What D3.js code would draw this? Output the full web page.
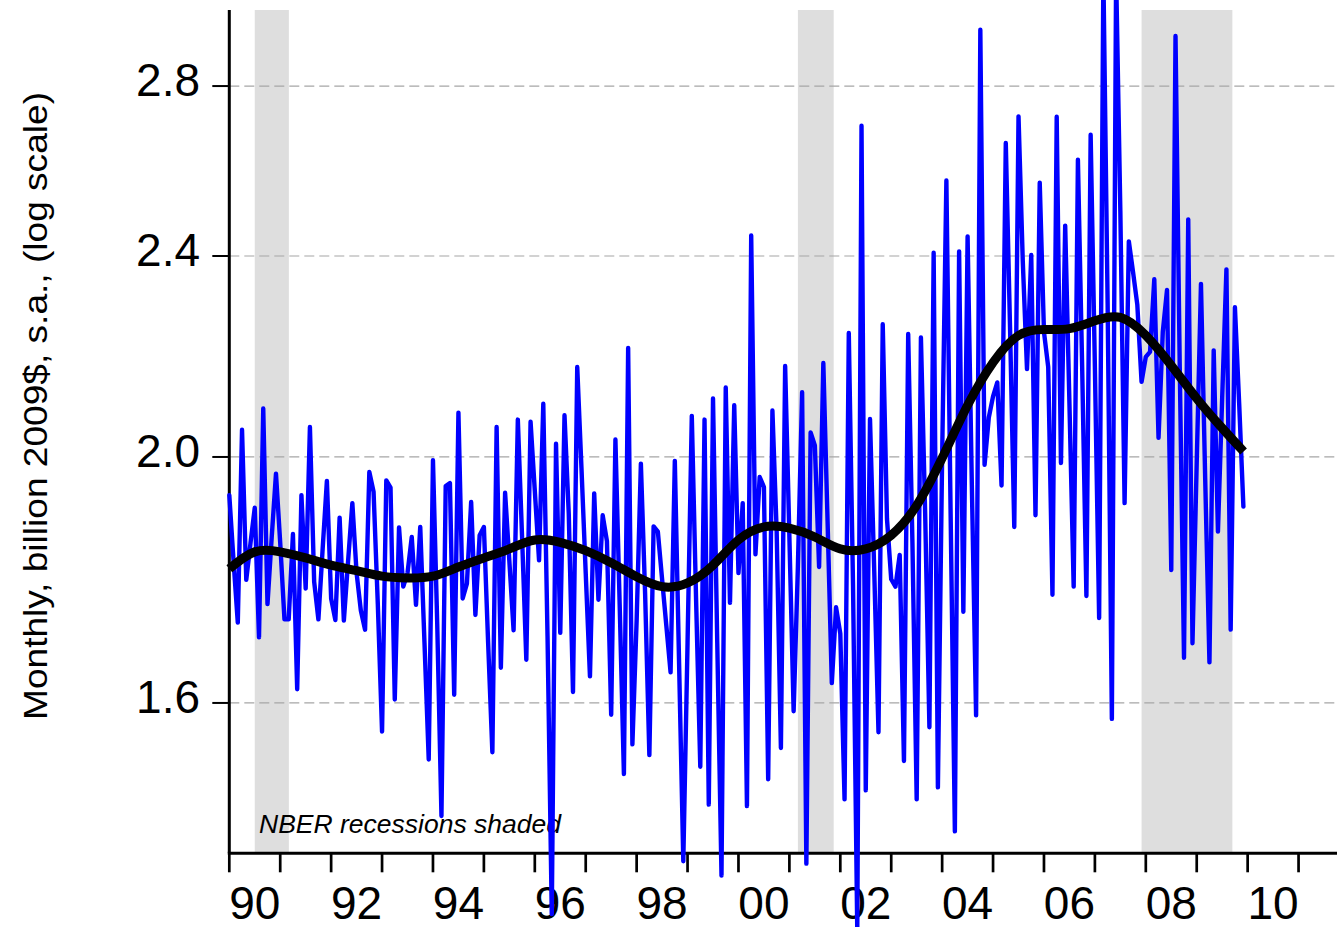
<!DOCTYPE html>
<html>
<head>
<meta charset="utf-8">
<script src="https://cdnjs.cloudflare.com/ajax/libs/d3/7.8.5/d3.min.js"></script>
<style>
  html, body { margin: 0; padding: 0; background: #ffffff; }
  svg { display: block; }
</style>
</head>
<body>
<div id="chart"></div>
<script>
// ---------------- DATA ----------------
const startYear = 1990;            // first monthly observation: Jan 1990
const monthlyValues = [
  1.932,1.82,1.721,2.050,1.789,1.85,1.910,1.698,2.090,1.750,1.86,1.970,
  1.85,1.726,1.726,1.865,1.620,1.932,1.775,2.055,1.786,1.726,1.84,1.957,
  1.759,1.725,1.893,1.724,1.82,1.918,1.80,1.74,1.710,1.973,1.938,1.75,
  1.559,1.958,1.945,1.605,1.876,1.778,1.80,1.860,1.749,1.877,1.69,1.520,
  1.994,1.72,1.444,1.948,1.953,1.612,2.082,1.759,1.783,1.920,1.733,1.863,
  1.877,1.69,1.530,2.055,1.652,1.936,1.82,1.709,2.069,1.86,1.664,2.065,
  1.94,1.821,2.099,1.70,1.321,2.024,1.705,2.077,1.90,1.616,2.170,1.98,
  1.80,1.639,1.935,1.757,1.897,1.853,1.583,2.032,1.75,1.500,2.208,1.541,
  1.724,1.988,1.766,1.526,1.878,1.869,1.79,1.716,1.645,1.993,1.66,1.386,
  1.69,2.076,1.76,1.510,2.069,1.459,2.109,1.69,1.368,2.130,1.752,2.096,
  1.800,1.918,1.457,2.445,1.831,1.964,1.946,1.493,2.086,1.87,1.536,2.172,
  1.86,1.588,1.81,2.121,1.383,2.045,2.021,1.81,2.178,1.886,1.629,1.745,
  1.704,1.466,2.238,1.78,1.30,2.701,1.478,2.070,1.803,1.558,2.256,1.891,
  1.79,1.778,1.830,1.518,2.236,1.85,1.466,2.229,1.90,1.565,2.407,1.482,
  2.00,2.570,1.90,1.424,2.410,1.738,2.443,1.95,1.582,2.947,1.986,2.073,
  2.113,2.14,1.949,2.659,2.25,1.877,2.724,2.39,2.166,2.402,1.897,2.565,
  2.24,2.17,1.765,2.723,1.989,2.467,2.10,1.778,2.619,2.17,1.763,2.679,
  2.17,1.728,3.10,2.30,1.577,3.10,2.50,1.918,2.432,2.365,2.296,2.141,
  2.19,2.20,2.350,2.035,2.24,2.327,1.805,2.930,2.17,1.667,2.481,1.689,
  1.99,2.340,1.96,1.660,2.203,1.869,2.11,2.371,1.710,2.291,2.10,1.912
];

// smoothed trend, read at half-year points
const trendTimes = [
  1990.0,1990.5,1991.0,1991.5,1992.0,1992.5,1993.0,1993.5,1994.0,1994.5,
  1995.0,1995.5,1996.0,1996.5,1997.0,1997.5,1998.0,1998.5,1999.0,1999.5,
  2000.0,2000.5,2001.0,2001.5,2002.0,2002.5,2003.0,2003.5,2004.0,2004.5,
  2005.0,2005.5,2006.0,2006.5,2007.0,2007.5,2008.0,2008.5,2009.0,2009.5,2009.92
];
const trendValues = [
  1.807,1.835,1.835,1.825,1.813,1.804,1.795,1.792,1.795,1.810,
  1.825,1.840,1.855,1.851,1.837,1.817,1.794,1.778,1.784,1.813,
  1.855,1.877,1.875,1.860,1.840,1.840,1.863,1.914,1.998,2.096,
  2.179,2.233,2.245,2.247,2.263,2.270,2.233,2.173,2.109,2.053,2.010
];

// NBER recessions (decimal years)
const recessionStarts = [1990.5, 2001.167, 2007.917];
const recessionEnds   = [1991.17, 2001.87, 2009.70];

// axis ticks
const yTickValues = [1.6, 2.0, 2.4, 2.8];
const yTickLabels = ["1.6", "2.0", "2.4", "2.8"];
const xTickYears = d3.range(1990, 2012);
const xLabelYears = [1990,1992,1994,1996,1998,2000,2002,2004,2006,2008,2010];
const xLabelTexts = ["90","92","94","96","98","00","02","04","06","08","10"];

const yTitle = "Monthly, billion 2009$, s.a., (log scale)";
const noteText = "NBER recessions shaded";

// ---------------- LAYOUT ----------------
const W = 1337, H = 927;
const plotL = 229.3, plotR = 1337, plotT = 10, plotB = 853.3;
const font = "'Liberation Sans', Arial, Helvetica, sans-serif";

const x = d3.scaleLinear().domain([1990, 2011.755]).range([plotL, plotR]);
const y = d3.scaleLog().domain([1.396, 3.0]).range([plotB, plotT]);

const svg = d3.select("#chart").append("svg")
  .attr("width", W).attr("height", H)
  .attr("viewBox", `0 0 ${W} ${H}`);

// recession shading
svg.append("g").selectAll("rect")
  .data(recessionStarts.map((s, i) => [s, recessionEnds[i]]))
  .join("rect")
  .attr("x", d => x(d[0]))
  .attr("width", d => x(d[1]) - x(d[0]))
  .attr("y", y(3.0))
  .attr("height", y(1.396) - y(3.0))
  .attr("fill", "#dedede");

// grid lines
svg.append("g").selectAll("line")
  .data(yTickValues)
  .join("line")
  .attr("x1", plotL).attr("x2", plotR)
  .attr("y1", d => y(d)).attr("y2", d => y(d))
  .attr("stroke", "#a6a6a6")
  .attr("stroke-width", 1.2)
  .attr("stroke-dasharray", "10,5");

// y axis
const yAxisG = svg.append("g");
yAxisG.append("line")
  .attr("x1", plotL).attr("x2", plotL)
  .attr("y1", y(3.0)).attr("y2", plotB)
  .attr("stroke", "#000").attr("stroke-width", 3);
yAxisG.selectAll("line.tick")
  .data(yTickValues)
  .join("line").attr("class", "tick")
  .attr("x1", plotL - 17).attr("x2", plotL)
  .attr("y1", d => y(d)).attr("y2", d => y(d))
  .attr("stroke", "#000").attr("stroke-width", 2);
yAxisG.selectAll("text")
  .data(yTickValues)
  .join("text")
  .attr("x", 200)
  .attr("y", d => y(d) + 10)
  .attr("text-anchor", "end")
  .attr("font-family", font)
  .attr("font-size", 46)
  .attr("fill", "#000")
  .text((d, i) => yTickLabels[i]);

// x axis
const xAxisG = svg.append("g");
xAxisG.append("line")
  .attr("x1", plotL - 1.5).attr("x2", plotR)
  .attr("y1", plotB).attr("y2", plotB)
  .attr("stroke", "#000").attr("stroke-width", 3);
xAxisG.selectAll("line.tick")
  .data(xTickYears)
  .join("line").attr("class", "tick")
  .attr("x1", d => x(d)).attr("x2", d => x(d))
  .attr("y1", plotB).attr("y2", plotB + 19)
  .attr("stroke", "#000").attr("stroke-width", 2.7);
xAxisG.selectAll("text")
  .data(xLabelYears)
  .join("text")
  .attr("x", d => x(d + 0.5))
  .attr("y", 919)
  .attr("text-anchor", "middle")
  .attr("font-family", font)
  .attr("font-size", 46)
  .attr("fill", "#000")
  .text((d, i) => xLabelTexts[i]);

// y title
svg.append("text")
  .attr("transform", `translate(47, 406) rotate(-90)`)
  .attr("text-anchor", "middle")
  .attr("font-family", font)
  .attr("font-size", 33)
  .attr("textLength", 628)
  .attr("lengthAdjust", "spacingAndGlyphs")
  .attr("fill", "#000")
  .text(yTitle);

// note
svg.append("text")
  .attr("x", 259)
  .attr("y", 833)
  .attr("font-family", font)
  .attr("font-size", 26.5)
  .attr("font-style", "italic")
  .attr("fill", "#000")
  .text(noteText);

// monthly series
const series = monthlyValues.map((v, i) => ({ t: startYear + i / 12, v }));
svg.append("path")
  .datum(series)
  .attr("fill", "none")
  .attr("stroke", "#0000ff")
  .attr("stroke-width", 4.4)
  .attr("stroke-linejoin", "round")
  .attr("stroke-linecap", "round")
  .attr("d", d3.line().x(d => x(d.t)).y(d => y(d.v)));

// trend
const trend = trendTimes.map((t, i) => ({ t, v: trendValues[i] }));
svg.append("path")
  .datum(trend)
  .attr("fill", "none")
  .attr("stroke", "#000")
  .attr("stroke-width", 9)
  .attr("stroke-linejoin", "round")
  .attr("stroke-linecap", "butt")
  .attr("d", d3.line().curve(d3.curveNatural).x(d => x(d.t)).y(d => y(d.v)));
</script>
</body>
</html>
